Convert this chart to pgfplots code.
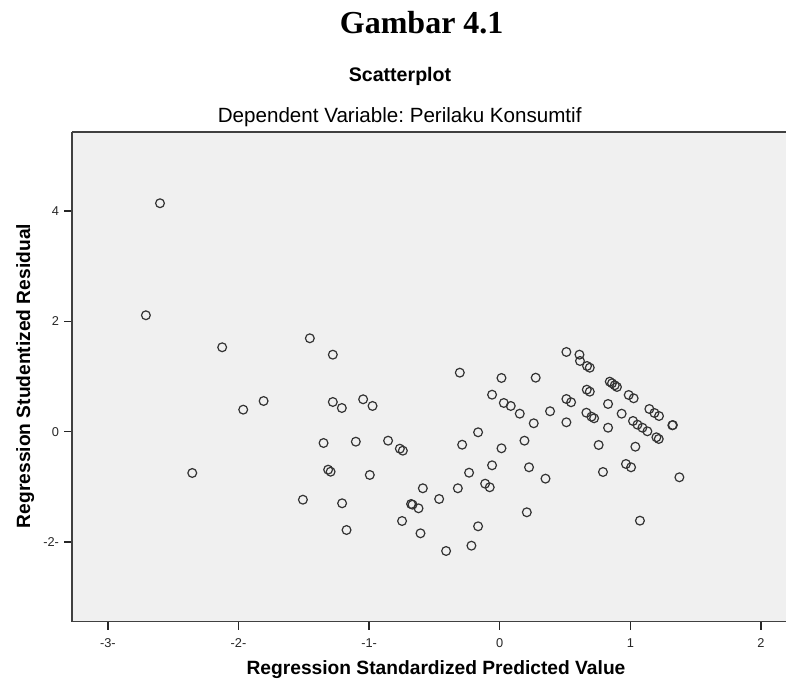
\documentclass[border=0pt]{standalone}
\usepackage{fontspec}
\setmainfont{Liberation Sans}
\newfontfamily\seriffont{Liberation Serif}
\usepackage{pgfplots}
\pgfplotsset{compat=1.18}
\frenchspacing
\begin{document}
\begin{tikzpicture}
\useasboundingbox (0,0) rectangle (393pt,339.5pt);
\node[anchor=base, font=\seriffont\bfseries\fontsize{16}{18}\selectfont] at (210.85pt,322.85pt) {Gambar 4.1};
\node[anchor=base, font=\bfseries\fontsize{9.8}{11}\selectfont] at (200pt,298.65pt) {Scatterplot};
\node[anchor=base, font=\fontsize{10.3}{12}\selectfont] at (199.85pt,278.35pt) {Dependent Variable: Perilaku Konsumtif};
\node[anchor=base, font=\bfseries\fontsize{9.6}{11}\selectfont] at (218pt,2pt) {Regression Standardized Predicted Value};
\node[anchor=base, rotate=90, font=\bfseries\fontsize{9.6}{11}\selectfont] at (15pt,151.5pt) {Regression Studentized Residual};
\begin{axis}[
  at={(36pt,28.65pt)}, anchor=south west,
  scale only axis, width=364pt, height=244.85pt,
  xmin=-3.2747, xmax=2.2984, ymin=-3.442, ymax=5.429,
  axis x line*=box, axis y line*=left,
  axis line style={draw=black!75, line width=0.8pt},
  axis background/.style={fill=gray!12},
  xtick={-3,-2,-1,0,1,2}, xticklabels={-3-,-2-,-1-,0,1,2},
  ytick={-2,0,2,4}, yticklabels={-2-,0,2,4},
  xtick pos=bottom, ytick pos=left,
  tick align=outside, major tick length=4pt,
  every tick/.style={black!85, line width=0.7pt},
  ticklabel style={font=\fontsize{6.4}{7}\selectfont, text=black!85},
  xticklabel style={yshift=-1pt},
  yticklabel style={xshift=1pt},
  clip=false,
]
\addplot[only marks, mark=o, mark size=2.2pt, mark options={draw=black!80, line width=0.6pt}] coordinates {
(-2.601,4.138) (-2.709,2.109) (-2.125,1.529) (-1.964,0.399) (-1.808,0.556) (-2.354,-0.748)
(-1.454,1.692) (-1.278,1.395) (-0.306,1.069) (0.013,0.973) (0.275,0.978)
(-1.278,0.538) (-1.209,0.429) (-1.046,0.587) (-0.974,0.466)
(-0.059,0.670) (0.031,0.520) (0.084,0.466) (0.153,0.326) (0.260,0.152)
(-1.349,-0.205) (-1.102,-0.181) (-0.855,-0.163) (-0.765,-0.308) (-0.742,-0.344)
(-0.166,-0.011) (-0.288,-0.236) (0.189,-0.163) (0.013,-0.301)
(-0.059,-0.609) (0.224,-0.645) (-1.314,-0.688) (-1.295,-0.725) (-0.995,-0.784)
(-0.235,-0.743) (-0.112,-0.942) (-0.077,-1.007) (-0.589,-1.025) (-0.321,-1.025)
(-1.507,-1.232) (-1.207,-1.297) (-0.679,-1.310) (-0.668,-1.322) (-0.622,-1.388)
(-0.464,-1.219) (0.207,-1.460) (-0.748,-1.618) (-0.166,-1.714) (-1.173,-1.781)
(-0.607,-1.841) (-0.217,-2.065) (-0.411,-2.161)
(0.510,1.444) (0.610,1.395) (0.614,1.281) (0.668,1.190) (0.689,1.159)
(0.385,0.370) (0.510,0.592) (0.546,0.533) (0.510,0.170) (0.666,0.761) (0.689,0.725)
(0.663,0.344) (0.702,0.272) (0.722,0.243) (0.829,0.502) (0.829,0.072)
(0.842,0.906) (0.859,0.877) (0.880,0.841) (0.897,0.810)
(0.987,0.665) (1.025,0.605) (0.933,0.326) (1.020,0.194) (1.054,0.127) (1.092,0.072) (1.130,0.007)
(1.145,0.411) (1.184,0.339) (1.219,0.284) (1.199,-0.101) (1.217,-0.132)
(1.321,0.116) (1.325,0.120)
(0.757,-0.241) (1.038,-0.272) (0.350,-0.851) (0.790,-0.730) (0.966,-0.585) (1.005,-0.645)
(1.375,-0.826) (1.073,-1.612)
};
\end{axis}
\end{tikzpicture}
\end{document}
